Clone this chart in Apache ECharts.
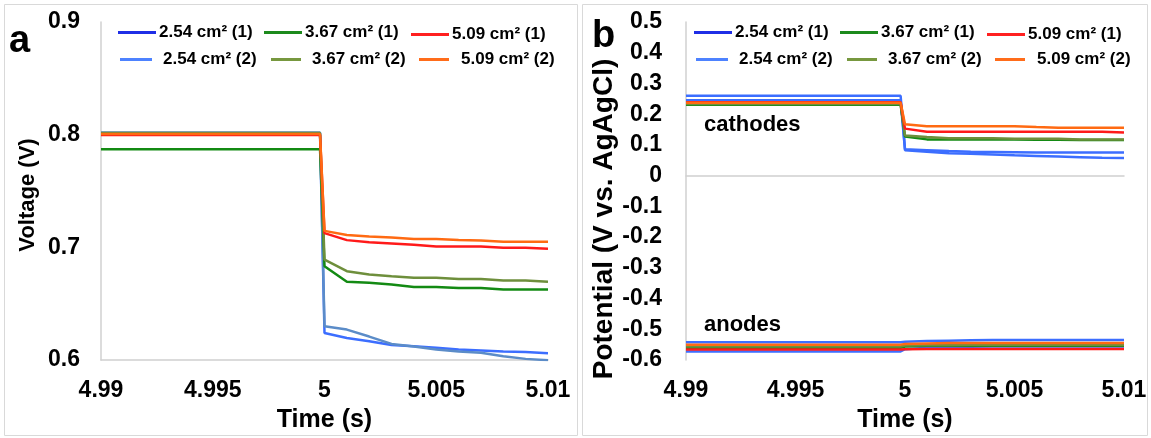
<!DOCTYPE html>
<html><head><meta charset="utf-8">
<script src="https://cdn.jsdelivr.net/npm/echarts@6/dist/echarts.min.js"></script>
<style>html,body{margin:0;padding:0;background:#fff}#c{width:1151px;height:438px}</style>
</head><body><div id="c"></div>
<script>
// ---- data ----
const names = ['2.54 cm² (1)', '3.67 cm² (1)', '5.09 cm² (1)', '2.54 cm² (2)', '3.67 cm² (2)', '5.09 cm² (2)'];
const times = [4.99, 4.9998, 5.000, 5.001, 5.002, 5.003, 5.004, 5.005, 5.006, 5.007, 5.008, 5.009, 5.010];
// panel a: cell voltage (V)
const a254_1 = [0.801, 0.801, 0.624, 0.6196, 0.6167, 0.6134, 0.6122, 0.6108, 0.6093, 0.6085, 0.6076, 0.6070, 0.6061];
const a367_1 = [0.787, 0.787, 0.6832, 0.6694, 0.6685, 0.6670, 0.6647, 0.6647, 0.6638, 0.6638, 0.6626, 0.6626, 0.6626];
const a509_1 = [0.7997, 0.7997, 0.7126, 0.7064, 0.7046, 0.7035, 0.7023, 0.7008, 0.7008, 0.7008, 0.6997, 0.6997, 0.6988];
const a254_2 = [0.802, 0.802, 0.630, 0.627, 0.6208, 0.6143, 0.6120, 0.6093, 0.6076, 0.6064, 0.6034, 0.6010, 0.5997];
const a367_2 = [0.8014, 0.8014, 0.6891, 0.6788, 0.6759, 0.6744, 0.6730, 0.6730, 0.6718, 0.6718, 0.6706, 0.6706, 0.6694];
const a509_2 = [0.8006, 0.8006, 0.7146, 0.7110, 0.7096, 0.7087, 0.7075, 0.7075, 0.7064, 0.7060, 0.7049, 0.7049, 0.7049];
// panel b: electrode potentials (V vs. Ag/AgCl) - cathodes
const c254_1 = [0.245, 0.245, 0.083, 0.078, 0.073, 0.071, 0.069, 0.066, 0.064, 0.062, 0.060, 0.058, 0.057];
const c367_1 = [0.231, 0.231, 0.127, 0.118, 0.118, 0.118, 0.118, 0.118, 0.117, 0.117, 0.116, 0.116, 0.116];
const c509_1 = [0.239, 0.239, 0.153, 0.143, 0.143, 0.143, 0.143, 0.143, 0.143, 0.143, 0.143, 0.143, 0.140];
const c254_2 = [0.260, 0.260, 0.086, 0.083, 0.080, 0.078, 0.077, 0.076, 0.075, 0.075, 0.075, 0.075, 0.075];
const c367_2 = [0.233, 0.233, 0.131, 0.126, 0.122, 0.122, 0.122, 0.120, 0.120, 0.120, 0.118, 0.118, 0.118];
const c509_2 = [0.237, 0.237, 0.167, 0.161, 0.161, 0.161, 0.161, 0.161, 0.158, 0.156, 0.156, 0.156, 0.156];
// anodes
const n254_1 = [-0.572, -0.572, -0.565, -0.560, -0.558, -0.557, -0.556, -0.556, -0.556, -0.556, -0.556, -0.556, -0.556];
const n367_1 = [-0.560, -0.560, -0.556, -0.554, -0.554, -0.554, -0.554, -0.554, -0.554, -0.554, -0.554, -0.554, -0.554];
const n509_1 = [-0.566, -0.566, -0.565, -0.564, -0.564, -0.564, -0.564, -0.564, -0.564, -0.564, -0.564, -0.564, -0.564];
const n254_2 = [-0.542, -0.542, -0.541, -0.538, -0.537, -0.536, -0.535, -0.535, -0.535, -0.535, -0.535, -0.535, -0.535];
const n367_2 = [-0.556, -0.556, -0.553, -0.552, -0.552, -0.551, -0.551, -0.551, -0.551, -0.551, -0.551, -0.551, -0.551];
const n509_2 = [-0.550, -0.550, -0.548, -0.546, -0.545, -0.545, -0.545, -0.545, -0.545, -0.545, -0.545, -0.545, -0.545];

// ---- styles ----
const FONT = 'Liberation Sans, Arial, sans-serif';
const lineColA = {'2.54 cm² (1)':'#3c6eff','3.67 cm² (1)':'#138a13','5.09 cm² (1)':'#ff1a1a','2.54 cm² (2)':'#5b8cc8','3.67 cm² (2)':'#6e8f3c','5.09 cm² (2)':'#ff6a12'};
const lineColB = {'2.54 cm² (1)':'#3c6eff','3.67 cm² (1)':'#138a13','5.09 cm² (1)':'#ff1a1a','2.54 cm² (2)':'#3c6eff','3.67 cm² (2)':'#6e8f3c','5.09 cm² (2)':'#ff6a12'};
const legCol = {'2.54 cm² (1)':'#1f2ee6','3.67 cm² (1)':'#1d8a1d','5.09 cm² (1)':'#ff2020','2.54 cm² (2)':'#4d82ff','3.67 cm² (2)':'#77983f','5.09 cm² (2)':'#ff6c1a'};

function mk(name, gi, vals, col) {
  return {name, type:'line', xAxisIndex:gi, yAxisIndex:gi, showSymbol:false, symbol:'none',
    lineStyle:{width:2.5, color:col}, itemStyle:{color:col}, animation:false, silent:true,
    data: times.map((t,i)=>[t, vals[i]])};
}
const series = [
  mk(names[0],0,a254_1,lineColA[names[0]]), mk(names[3],0,a254_2,lineColA[names[3]]),
  mk(names[1],0,a367_1,lineColA[names[1]]), mk(names[4],0,a367_2,lineColA[names[4]]),
  mk(names[2],0,a509_1,lineColA[names[2]]), mk(names[5],0,a509_2,lineColA[names[5]]),
  mk(names[0],1,c254_1,lineColB[names[0]]), mk(names[3],1,c254_2,lineColB[names[3]]),
  mk(names[1],1,c367_1,lineColB[names[1]]), mk(names[4],1,c367_2,lineColB[names[4]]),
  mk(names[2],1,c509_1,lineColB[names[2]]), mk(names[5],1,c509_2,lineColB[names[5]]),
  mk(names[0],1,n254_1,lineColB[names[0]]), mk(names[3],1,n254_2,lineColB[names[3]]),
  mk(names[1],1,n367_1,lineColB[names[1]]), mk(names[4],1,n367_2,lineColB[names[4]]),
  mk(names[2],1,n509_1,lineColB[names[2]]), mk(names[5],1,n509_2,lineColB[names[5]])
];

function leg(name, left, top, w, pad) {
  return {show:true, selectedMode:false, left, top, icon:'rect', itemWidth:w, itemHeight:3, padding:0,
    data:[{name, itemStyle:{color:legCol[name]}}],
    textStyle:{fontFamily:FONT, fontWeight:'bold', fontSize:17, color:'#000', padding:[0,0,0,pad]}};
}
const legends = [];
[0, 576].forEach(dx => {
  legends.push(leg(names[0], 118+dx, 24, 38, -2));
  legends.push(leg(names[1], 264+dx, 24, 38, -2));
  legends.push(leg(names[2], 411+dx, 26, 38, -2));
  legends.push(leg(names[3], 120+dx, 51, 32, 6));
  legends.push(leg(names[4], 271+dx, 51, 30, 6));
  legends.push(leg(names[5], 419+dx, 51, 30, 7));
});

const axLine = {show:true, lineStyle:{color:'#d0d0d0', width:1.5}};
const tickLbl = {fontFamily:FONT, fontWeight:'bold', fontSize:23, color:'#000'};
function xAx(gi) {
  return {type:'value', gridIndex:gi, min:4.99, max:5.01, interval:0.005,
    axisLine:axLine, axisTick:{show:false}, splitLine:{show:false},
    axisLabel:Object.assign({margin:19, formatter:v=>String(parseFloat(v.toFixed(4)))}, tickLbl),
    name:'Time (s)', nameLocation:'middle', nameGap:48,
    nameTextStyle:{fontFamily:FONT, fontWeight:'bold', fontSize:25, color:'#000'}};
}
function fmtY(v){ return Math.abs(v) < 1e-9 ? '0' : v.toFixed(1); }

const option = {
  animation:false,
  grid:[{left:101, top:22, width:447, height:341}, {left:686, top:22, width:438, height:340}],
  xAxis:[xAx(0), xAx(1)],
  yAxis:[
    {type:'value', gridIndex:0, min:0.6, max:0.9, interval:0.1, axisLine:axLine, axisTick:{show:false}, splitLine:{show:false},
     axisLabel:Object.assign({margin:21, formatter:fmtY}, tickLbl),
     name:'Voltage (V)', nameLocation:'middle', nameGap:62,
     nameTextStyle:{fontFamily:FONT, fontWeight:'bold', fontSize:22, color:'#000', padding:[0,8,0,0]}},
    {type:'value', gridIndex:1, min:-0.6, max:0.5, interval:0.1, axisLine:axLine, axisTick:{show:false}, splitLine:{show:false},
     axisLabel:Object.assign({margin:24, formatter:fmtY}, tickLbl),
     name:'Potential (V vs. AgAgCl)', nameLocation:'middle', nameGap:66,
     nameTextStyle:{fontFamily:FONT, fontWeight:'bold', fontSize:28, color:'#000', padding:[0,56,0,0]}}
  ],
  legend: legends,
  series,
  graphic:[
    {type:'rect', shape:{x:4.5, y:4.5, width:573, height:431}, style:{fill:'none', stroke:'#d9d9d9', lineWidth:1}, z:-1},
    {type:'rect', shape:{x:582.5, y:4.5, width:565, height:431}, style:{fill:'none', stroke:'#d9d9d9', lineWidth:1}, z:-1},
    {type:'text', left:9, top:23, style:{text:'a', font:'bold 38px '+FONT, fill:'#000'}},
    {type:'text', left:592, top:18, style:{text:'b', font:'bold 38px '+FONT, fill:'#000'}},
    {type:'text', left:704, top:114, style:{text:'cathodes', font:'bold 22px '+FONT, fill:'#000'}},
    {type:'text', left:704, top:314, style:{text:'anodes', font:'bold 22px '+FONT, fill:'#000'}}
  ]
};
const chart = echarts.init(document.getElementById('c'), null, {renderer:'canvas'});
chart.setOption(option);
</script></body></html>
